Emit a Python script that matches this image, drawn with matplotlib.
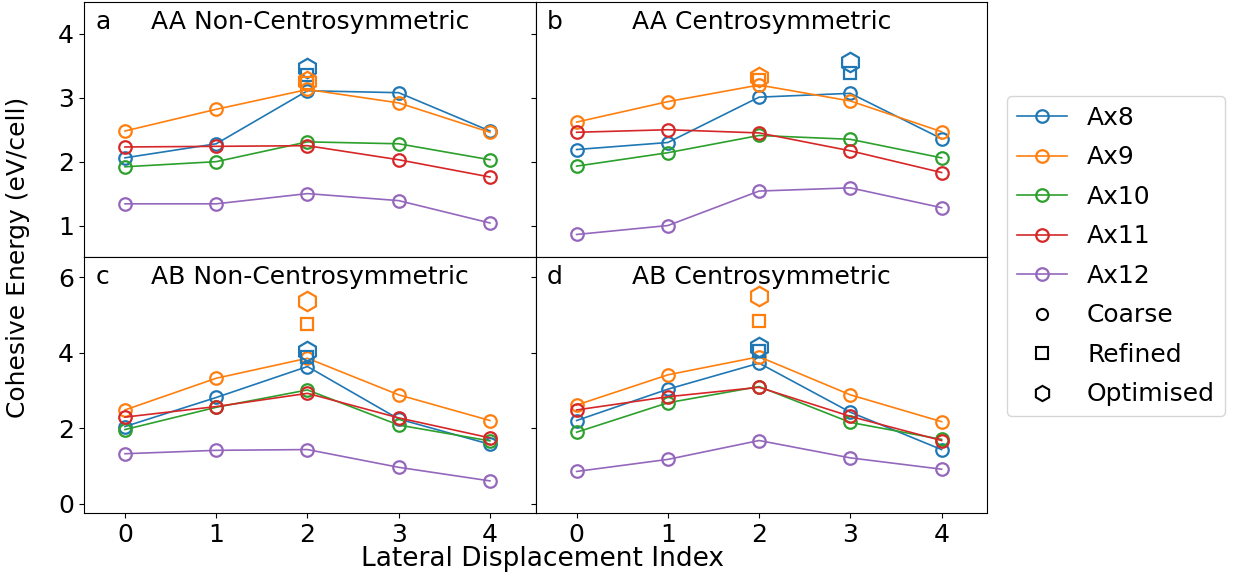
import matplotlib.pyplot as plt
import numpy as np

x = [0, 1, 2, 3, 4]
series = ['Ax8', 'Ax9', 'Ax10', 'Ax11', 'Ax12']
colors = ['tab:blue', 'tab:orange', 'tab:green', 'tab:red', 'tab:purple']
panel_letters = ['a', 'b', 'c', 'd']
panel_titles = ['AA Non-Centrosymmetric', 'AA Centrosymmetric',
                'AB Non-Centrosymmetric', 'AB Centrosymmetric']

# coarse energies, one row per series (Ax8..Ax12)
coarse_a = [[2.06, 2.28, 3.11, 3.08, 2.48],
            [2.48, 2.82, 3.13, 2.92, 2.46],
            [1.92, 2.00, 2.31, 2.28, 2.03],
            [2.23, 2.24, 2.25, 2.03, 1.76],
            [1.34, 1.34, 1.50, 1.39, 1.04]]
coarse_b = [[2.19, 2.30, 3.01, 3.07, 2.36],
            [2.62, 2.94, 3.20, 2.95, 2.47],
            [1.93, 2.14, 2.41, 2.35, 2.06],
            [2.46, 2.50, 2.45, 2.17, 1.83],
            [0.86, 1.00, 1.54, 1.59, 1.28]]
coarse_c = [[2.05, 2.82, 3.64, 2.25, 1.58],
            [2.49, 3.33, 3.86, 2.89, 2.21],
            [1.97, 2.56, 3.02, 2.09, 1.67],
            [2.30, 2.58, 2.93, 2.28, 1.75],
            [1.33, 1.42, 1.44, 0.97, 0.61]]
coarse_d = [[2.21, 3.04, 3.73, 2.43, 1.44],
            [2.62, 3.42, 3.90, 2.89, 2.18],
            [1.90, 2.68, 3.11, 2.16, 1.71],
            [2.49, 2.84, 3.09, 2.32, 1.68],
            [0.86, 1.18, 1.68, 1.22, 0.92]]

# refined / optimised points: (series index, x index, refined, optimised)
extra_a = [(0, 2, 3.36, 3.47), (1, 2, 3.23, 3.26)]
extra_b = [(1, 2, 3.28, 3.32), (0, 3, 3.39, 3.56)]
extra_c = [(0, 2, 3.88, 4.06), (1, 2, 4.77, 5.37)]
extra_d = [(0, 2, 4.04, 4.17), (1, 2, 4.86, 5.50)]

coarse_all = [coarse_a, coarse_b, coarse_c, coarse_d]
extra_all = [extra_a, extra_b, extra_c, extra_d]

plt.rcParams['font.size'] = 18

fig, axes = plt.subplots(2, 2, figsize=(12.34, 5.82), dpi=100, sharex=True, sharey='row')
fig.subplots_adjust(left=0.068, right=0.80, top=0.9966, bottom=0.1186, wspace=0, hspace=0)

for k, ax in enumerate(axes.flat):
    for i, name in enumerate(series):
        ax.plot(x, coarse_all[k][i], '-o', color=colors[i], lw=1.2, ms=9,
                mfc='none', mew=1.6, label=name)
    for si, xi, ref, opt in extra_all[k]:
        ax.plot(x[xi], ref, 's', color=colors[si], ms=9, mfc='none', mew=1.6)
        ax.plot(x[xi], opt, 'h', color=colors[si], ms=14, mfc='none', mew=1.6)
    ax.text(0.025, 0.97, panel_letters[k], transform=ax.transAxes, va='top', ha='left')
    ax.text(0.5, 0.97, panel_titles[k], transform=ax.transAxes, va='top', ha='center')
    ax.set_xlim(-0.45, 4.5)
    ax.set_xticks(x)

axes[0, 0].set_ylim(0.5, 4.5)
axes[0, 0].set_yticks([1, 2, 3, 4])
axes[1, 0].set_ylim(-0.24, 6.53)
axes[1, 0].set_yticks([0, 2, 4, 6])

fig.text(0.44, 0.018, 'Lateral Displacement Index', ha='center', va='bottom', fontsize=19)
fig.text(0.005, 0.558, 'Cohesive Energy (eV/cell)', rotation=90, ha='left', va='center')

handles, labels = axes[0, 0].get_legend_handles_labels()
for mk, lab in [('o', 'Coarse'), ('s', 'Refined'), ('h', 'Optimised')]:
    h, = axes[0, 0].plot([], [], mk, color='black', mfc='none', ms=8 if mk != 'h' else 11, mew=1.5)
    handles.append(h)
    labels.append(lab)
fig.legend(handles, labels, loc='center left', bbox_to_anchor=(0.806, 0.56),
           labelspacing=0.62)

fig.savefig('out.png', dpi=100)
